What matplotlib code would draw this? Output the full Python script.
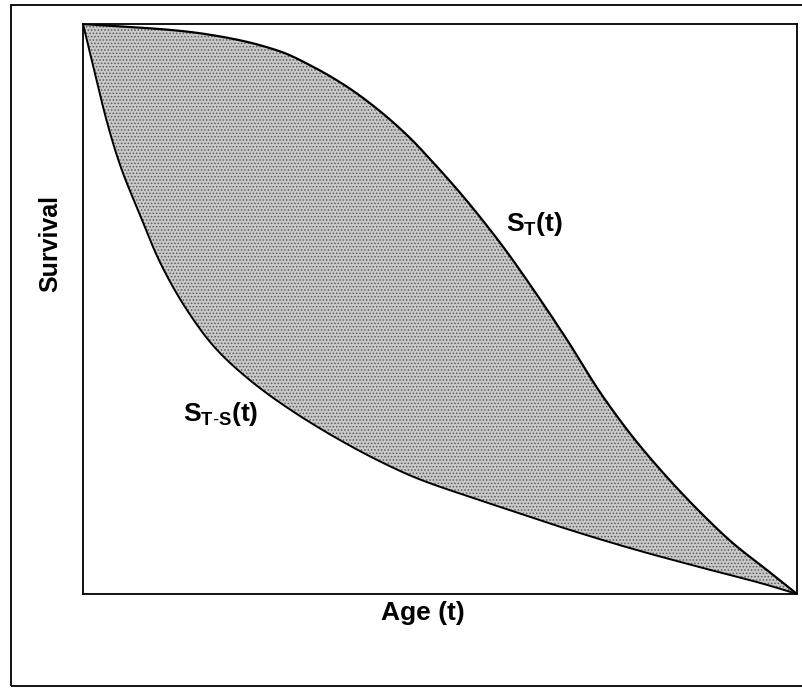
import matplotlib
matplotlib.use("Agg")
import matplotlib.pyplot as plt
from matplotlib.patches import Rectangle
import numpy as np

plt.rcParams['font.family'] = ['Liberation Sans', 'DejaVu Sans']
plt.rcParams['mathtext.fontset'] = 'custom'
plt.rcParams['mathtext.bf'] = 'Liberation Sans:bold'
plt.rcParams['mathtext.rm'] = 'Liberation Sans'
plt.rcParams['hatch.linewidth'] = 0.7

# Survival curves (age scaled 0-100, survival 0-1)
age_T = [0, 13.59, 20.59, 27.59, 32.21, 36.97, 41.60, 45.80, 48.60, 52.80, 56.58,
         59.38, 63.03, 67.79, 72.41, 77.03, 81.79, 86.41, 91.04, 95.80, 100]
surv_T = [1.0, 0.988, 0.975, 0.952, 0.925, 0.890, 0.847, 0.800, 0.763, 0.704, 0.646,
          0.600, 0.535, 0.446, 0.354, 0.275, 0.205, 0.144, 0.089, 0.042, 0.0]

age_TS = [0, 1.96, 3.36, 5.18, 7.98, 10.78, 14.57, 18.49, 23.39, 28.01, 35.01,
          42.02, 46.78, 53.78, 60.78, 67.79, 77.03, 86.41, 95.80, 100]
surv_TS = [1.0, 0.898, 0.828, 0.753, 0.665, 0.582, 0.498, 0.432, 0.375, 0.332, 0.277,
           0.230, 0.203, 0.172, 0.143, 0.114, 0.079, 0.047, 0.016, 0.0]

label_T = r'$\mathbf{S_{T}(t)}$'
label_TS = r'$\mathbf{S_{T\text{-}S}(t)}$'
xlabel = 'Age (t)'
ylabel = 'Survival'


def pchip(x, y, xs):
    x = np.asarray(x, float); y = np.asarray(y, float)
    h = np.diff(x); d = np.diff(y) / h
    m = np.zeros_like(y)
    for k in range(1, len(x) - 1):
        if d[k-1] * d[k] > 0:
            w1 = 2*h[k] + h[k-1]; w2 = h[k] + 2*h[k-1]
            m[k] = (w1 + w2) / (w1/d[k-1] + w2/d[k])
    m[0] = d[0]; m[-1] = d[-1]
    idx = np.clip(np.searchsorted(x, xs) - 1, 0, len(x) - 2)
    t = (xs - x[idx]) / h[idx]
    h00 = 2*t**3 - 3*t**2 + 1; h10 = t**3 - 2*t**2 + t
    h01 = -2*t**3 + 3*t**2; h11 = t**3 - t**2
    return h00*y[idx] + h10*h[idx]*m[idx] + h01*y[idx+1] + h11*h[idx]*m[idx+1]


fig = plt.figure(figsize=(8.03, 6.90), dpi=100)
ax = fig.add_axes([83/803, 1-594/690, (797-83)/803, (594-24)/690])

grid = np.linspace(0, 100, 800)
upper = pchip(age_T, surv_T, grid)
lower = pchip(age_TS, surv_TS, grid)
ax.fill_between(grid, lower, upper, facecolor='#c9c9c9', edgecolor='#5a5a5a',
                hatch='.....', linewidth=0)

ax.plot(grid, upper, color='black', lw=1.6)
ax.plot(grid, lower, color='black', lw=1.4)

ax.set_xlim(0, 100)
ax.set_ylim(0, 1)
ax.set_xticks([])
ax.set_yticks([])
for s in ax.spines.values():
    s.set_linewidth(1.3)

fig.text(506/803, 1-210/690, label_T, fontsize=19, va='top', ha='left')
fig.text(183/803, 1-400/690, label_TS, fontsize=19, va='top', ha='left')

fig.text(423/803, 1-613/690, xlabel, ha='center', va='center',
         fontsize=19, fontweight='bold')
fig.text(50/803, 1-243/690, ylabel, ha='center', va='center', rotation=90,
         fontsize=18, fontweight='bold')

fig.patches.append(Rectangle((11/803, 4/690), 1.0, 1-9/690, transform=fig.transFigure,
                             fill=False, edgecolor='black', linewidth=1.3))

fig.savefig('out.png', dpi=100)
